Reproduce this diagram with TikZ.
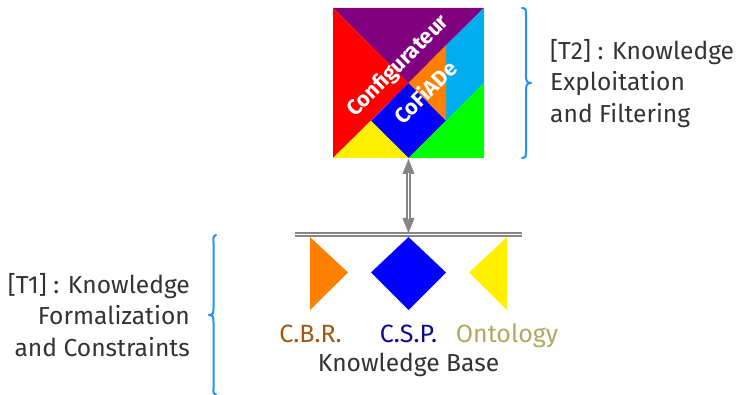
\documentclass[tikz,border=0pt]{standalone}
\usepackage{fontspec}
\setmainfont{Fira Sans}
\usetikzlibrary{arrows.meta}
\definecolor{tpurple}{HTML}{800080}
\definecolor{tred}{HTML}{FF0000}
\definecolor{tcyan}{HTML}{00AEEF}
\definecolor{torange}{HTML}{FF8000}
\definecolor{tblue}{HTML}{0000FF}
\definecolor{tyellow}{HTML}{FFF000}
\definecolor{tgreen}{HTML}{00FF00}
\definecolor{bracec}{HTML}{1E90FF}
\definecolor{ink}{HTML}{333333}
\tikzset{
  bodytext/.style={text=ink,font=\fontsize{24.6}{31.5}\selectfont,inner sep=0pt},
  tag/.style={font=\fontsize{25}{28}\selectfont,inner sep=0pt,anchor=base},
  tangramtext/.style={text=white,font=\bfseries\fontsize{21.5}{24}\selectfont,rotate=45,inner sep=0pt},
  bracestyle/.style={draw=bracec,line width=2pt,line cap=round,line join=round},
  holder/.style={inner sep=0pt,outer sep=0pt,minimum width=0pt,minimum height=0pt},
  barline/.style={draw=gray!95,double=white,line width=1.9pt,double distance=1.3pt},
  linkshaft/.style={draw=gray!95,double=white,line width=1.6pt,double distance=1.3pt},
  linktips/.style={draw=gray!95,line width=0.2pt,{Triangle[length=15pt,width=12pt,fill=gray!95]}-{Triangle[length=15pt,width=12pt,fill=gray!95]}},
}
\begin{document}
\begin{tikzpicture}[x=1pt,y=-1pt]
\useasboundingbox (0,0) rectangle (738,395);
% tangram
\fill[tpurple] (333,8)--(484,8)--(408.5,83)--cycle;
\fill[tred] (333,8)--(408.5,83)--(333,158)--cycle;
\fill[tcyan] (484,8)--(484,83)--(446,121)--(446,45)--cycle;
\fill[torange] (446,45)--(446,121)--(408.5,83)--cycle;
\fill[tblue] (408.5,83)--(446,121)--(408.5,158)--(371,121)--cycle;
\fill[tyellow] (333,158)--(371,121)--(408.5,158)--cycle;
\fill[tgreen] (408.5,158)--(484,83)--(484,158)--cycle;
\node[tangramtext] (configurateur) at (398.5,66.5) {Configurateur};
\node[tangramtext] (cofiade) at (425,92) {CoFiADe};
% connector
\node[holder] (top) at (408.5,159) {};
\node[holder] (bar) at (408.5,233) {};
\node[holder] (barleft) at (295,234.5) {};
\node[holder] (barright) at (522,234.5) {};
\draw[barline] (barleft) -- (barright);
\draw[linktips] (top) -- (bar);
\draw[linkshaft,shorten <=14pt,shorten >=14pt] (top) -- (bar);
% base shapes
\fill[torange] (310,237)--(348,272.5)--(310,310)--cycle;
\fill[tblue] (408.5,237)--(446,272.5)--(408.5,310)--(371,272.5)--cycle;
\fill[tyellow] (507,237)--(469,272.5)--(507,310)--cycle;
% labels
\node[tag,text={rgb,255:red,160;green,88;blue,16}] (cbr) at (310.5,342.5) {C.B.R.};
\node[tag,text={rgb,255:red,10;green,10;blue,150}] (csp) at (408.5,342.5) {C.S.P.};
\node[tag,text={rgb,255:red,176;green,168;blue,96}] (onto) at (507,342.5) {Ontology};
\node[tag,font=\fontsize{24.6}{28}\selectfont,text=ink] (kb) at (408.5,371) {Knowledge Base};
% right text
\node[bodytext,align=left,anchor=north west] (t2) at (550,39) {[T2] : Knowledge\\Exploitation\\and Filtering};
\node[bodytext,align=right,anchor=north east] (t1) at (190,273) {[T1] : Knowledge\\Formalization\\and Constraints};
% braces
\draw[bracestyle] (522,8) .. controls (526,8) and (526,10) .. (526,15) -- (526,76) .. controls (526,81) and (527,83) .. (531,83) .. controls (527,83) and (526,85) .. (526,90) -- (526,151) .. controls (526,156) and (526,158) .. (522,158);
\draw[bracestyle] (216,235) .. controls (213,235) and (213.5,237) .. (213.5,242) -- (213.5,308) .. controls (213.5,313) and (213,315) .. (209,315) .. controls (213,315) and (213.5,317) .. (213.5,322) -- (213.5,388) .. controls (213.5,393) and (213,394.5) .. (216,394.5);
\end{tikzpicture}
\end{document}
